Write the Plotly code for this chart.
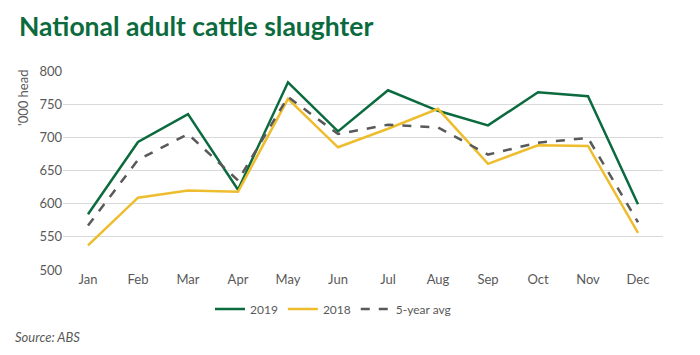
import plotly.graph_objects as go

months = ["Jan", "Feb", "Mar", "Apr", "May", "Jun", "Jul", "Aug", "Sep", "Oct", "Nov", "Dec"]
y2019 = [584, 693, 735, 621, 783, 709, 771, 740, 718, 768, 762, 599]
y2018 = [537, 609, 620, 618, 758, 685, 713, 743, 660, 688, 687, 556]
avg5 = [567, 666, 705, 635, 761, 705, 719, 715, 674, 692, 699, 572]

GREEN = "#0b6b3e"
GOLD = "#eebd2e"
GREY = "#595959"
FONT = "Lato"

fig = go.Figure()
fig.add_trace(go.Scatter(x=months, y=y2019, name="2019", mode="lines",
                         line=dict(color=GREEN, width=2.5)))
fig.add_trace(go.Scatter(x=months, y=y2018, name="2018", mode="lines",
                         line=dict(color=GOLD, width=2.5)))
fig.add_trace(go.Scatter(x=months, y=avg5, name="5-year avg", mode="lines",
                         line=dict(color=GREY, width=2.5, dash="dash")))

# page body has an 8px margin, so the figure is offset by 8px right/down
fig.update_layout(
    width=700, height=355,
    margin=dict(l=55, r=45, t=63, b=93),
    paper_bgcolor="white", plot_bgcolor="white",
    font=dict(family=FONT, color=GREY, size=13),
    showlegend=True,
    legend=dict(orientation="h", x=0.45, xanchor="center", y=-0.196, yanchor="middle",
                font=dict(size=12, color=GREY), itemwidth=30, tracegroupgap=0),
    xaxis=dict(range=[-0.5, 11.5], showgrid=False, showline=False, zeroline=False,
               ticks="", tickfont=dict(size=13, color=GREY)),
    yaxis=dict(range=[500, 800], dtick=50, showgrid=True, gridcolor="#d9d9d9",
               gridwidth=1, zeroline=False, showline=False, ticks="",
               tickfont=dict(size=13, color=GREY)),
)

fig.add_annotation(text="'000 head", xref="paper", yref="paper",
                   x=-(63 - 23) / 600, y=1 - (98 - 71) / 199, xanchor="center", yanchor="middle",
                   textangle=-90, showarrow=False, font=dict(family=FONT, size=13, color=GREY))
fig.add_annotation(text="<b>National adult cattle slaughter</b>", xref="paper", yref="paper",
                   x=-46 / 600, y=1 + 45 / 199, xanchor="left", yanchor="middle", showarrow=False,
                   font=dict(family=FONT, size=26.5, color=GREEN))
fig.add_annotation(text="<i>Source: ABS</i>", xref="paper", yref="paper",
                   x=-50 / 600, y=-(337 - 270) / 199, xanchor="left", yanchor="middle",
                   showarrow=False, font=dict(family=FONT, size=13, color=GREY))

fig.write_html("out.html")
